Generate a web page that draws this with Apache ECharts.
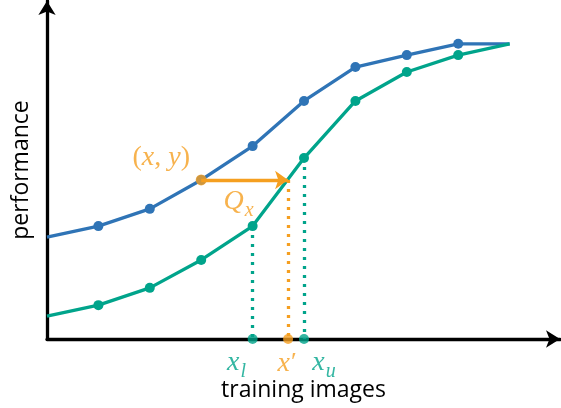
<!DOCTYPE html>
<html>
<head>
<meta charset="utf-8">
<script src="https://cdn.jsdelivr.net/npm/echarts@6/dist/echarts.min.js"></script>
<style>html,body{margin:0;padding:0;background:#fff}#c{width:561px;height:408px}</style>
</head>
<body>
<div id="c"></div>
<script>
// ---- data ----
var xSteps = [0, 1, 2, 3, 4, 5, 6, 7, 8, 9];
var blueVals = [30.7, 34.0, 39.2, 47.9, 58.1, 71.7, 81.9, 85.5, 88.9, 88.9];
var greenVals = [6.9, 10.2, 15.4, 23.8, 34.0, 54.5, 71.7, 80.4, 85.5, 88.9];
var queryIndex = 3;       // (x, y) on the blue curve
var lowerIndex = 4;       // x_l on the green curve
var upperIndex = 5;       // x_u on the green curve
var xPrime = 4.69;        // x' where green reaches y
var axisNames = ['training images', 'performance'];

var BLUE = '#2f74b6', GREEN = '#00a48b', ORANGE = '#f59f20';
var MATH = 'Liberation Serif';

function lineData(vals) {
  return xSteps.map(function (x, i) {
    var d = { value: [x, vals[i]] };
    if (i === 0 || i === xSteps.length - 1) d.symbol = 'none';
    return d;
  });
}
var queryY = blueVals[queryIndex];
var mathRich = {
  m: { fontFamily: MATH, fontStyle: 'italic', fontSize: 28 },
  r: { fontFamily: MATH, fontSize: 28 },
  s: { fontFamily: MATH, fontStyle: 'italic', fontSize: 20, padding: [17, 0, 0, 1] },
  p: { fontFamily: MATH, fontSize: 26, verticalAlign: 'top', padding: [0, 0, 0, 1] }
};
function mathLabel(fmt, color, offset) {
  return { show: true, position: 'inside', offset: offset, formatter: fmt, color: color, rich: mathRich };
}

var chart = echarts.init(document.getElementById('c'), null, { renderer: 'canvas' });
chart.setOption({
  animation: false,
  grid: { left: 47, right: 1, top: 1, bottom: 69, containLabel: false },
  xAxis: {
    type: 'value', min: 0, max: 9.98,
    name: axisNames[0], nameLocation: 'middle', nameGap: 40,
    nameTextStyle: { fontFamily: 'Open Sans', fontSize: 23, color: '#000' },
    axisLine: { show: true, onZero: false, symbol: ['none', 'arrow'], symbolSize: [13, 14],
      lineStyle: { color: '#000', width: 3.3 } },
    axisTick: { show: false }, axisLabel: { show: false }, splitLine: { show: false }
  },
  yAxis: {
    type: 'value', min: 0, max: 101.8,
    name: axisNames[1], nameLocation: 'middle', nameGap: 14,
    nameTextStyle: { fontFamily: 'Open Sans', fontSize: 23, color: '#000' },
    axisLine: { show: true, onZero: false, symbol: ['none', 'arrow'], symbolSize: [13, 14],
      lineStyle: { color: '#000', width: 3.3 } },
    axisTick: { show: false }, axisLabel: { show: false }, splitLine: { show: false }
  },
  series: [
    {
      type: 'line', data: lineData(blueVals), clip: false, z: 3,
      symbol: 'circle', symbolSize: 10, showAllSymbol: true,
      itemStyle: { color: BLUE }, lineStyle: { color: BLUE, width: 3.3 }
    },
    {
      type: 'line', data: lineData(greenVals), clip: false, z: 3,
      symbol: 'circle', symbolSize: 10, showAllSymbol: true,
      itemStyle: { color: GREEN }, lineStyle: { color: GREEN, width: 3.3 },
      markLine: {
        silent: true, symbol: ['none', 'none'], animation: false,
        label: { show: false },
        lineStyle: { color: GREEN, width: 3.3, type: [3, 6] },
        data: [
          [{ coord: [xSteps[lowerIndex], greenVals[lowerIndex]] }, { coord: [xSteps[lowerIndex], 0] }],
          [{ coord: [xSteps[upperIndex], greenVals[upperIndex]] }, { coord: [xSteps[upperIndex], 0] }]
        ]
      }
    },
    {
      type: 'scatter', clip: false, z: 5,
      data: [{ value: [xSteps[queryIndex], queryY],
        label: mathLabel('{r|(}{m|x}{r|, }{m|y}{r|)}', ORANGE, [-40, -22]) }],
      symbol: 'circle', symbolSize: 11, itemStyle: { color: ORANGE },
      markLine: {
        silent: true, animation: false, label: { show: false },
        data: [
          [{ coord: [xSteps[queryIndex], queryY], symbol: 'none' },
           { coord: [xPrime, queryY], symbol: 'arrow', symbolSize: [14, 13] }],
          [{ coord: [xPrime, queryY], symbol: 'none', lineStyle: { type: [3, 6] } },
           { coord: [xPrime, 0], symbol: 'none' }]
        ],
        lineStyle: { color: ORANGE, width: 3.3, type: 'solid' }
      }
    },
    {
      type: 'scatter', clip: false, z: 5, symbolSize: 0,
      data: [{ value: [(xSteps[queryIndex] + xPrime) / 2, queryY],
        label: mathLabel('{m|Q}{s|x}', ORANGE, [-6, 22]) }]
    },
    {
      type: 'scatter', clip: false, z: 6, symbol: 'circle', symbolSize: 10,
      data: [
        { value: [xSteps[lowerIndex], 0], itemStyle: { color: GREEN },
          label: mathLabel('{m|x}{s|l}', GREEN, [-16, 24]) },
        { value: [xPrime, 0], itemStyle: { color: ORANGE },
          label: mathLabel('{m|x}{p|′}', ORANGE, [-1, 25]) },
        { value: [xSteps[upperIndex], 0], itemStyle: { color: GREEN },
          label: mathLabel('{m|x}{s|u}', GREEN, [20, 24]) }
      ]
    }
  ]
});
</script>
</body>
</html>
